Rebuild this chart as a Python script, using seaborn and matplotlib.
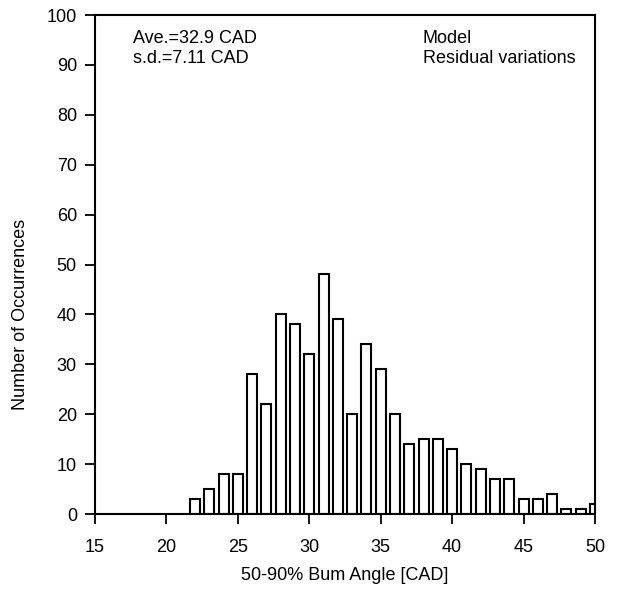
import matplotlib
matplotlib.use("Agg")
import matplotlib.pyplot as plt
import seaborn as sns
import pandas as pd

angles = [22, 23, 24, 25, 26, 27, 28, 29, 30, 31, 32, 33, 34, 35, 36, 37, 38, 39,
          40, 41, 42, 43, 44, 45, 46, 47, 48, 49, 50]
counts = [3, 5, 8, 8, 28, 22, 40, 38, 32, 48, 39, 20, 34, 29, 20, 14, 15, 15,
          13, 10, 9, 7, 7, 3, 3, 4, 1, 1, 2]
xticks = [15, 20, 25, 30, 35, 40, 45, 50]
yticks = [0, 10, 20, 30, 40, 50, 60, 70, 80, 90, 100]

sns.set_style("ticks")
plt.rcParams['font.family'] = ['Liberation Sans', 'DejaVu Sans']
plt.rcParams['text.color'] = 'black'
plt.rcParams['axes.labelcolor'] = 'black'

df = pd.DataFrame({"angle": angles, "count": counts})

fig = plt.figure(figsize=(6.18, 5.93), dpi=100)
ax = fig.add_axes([0.1537, 0.1332, 0.8091, 0.8415])

sns.barplot(data=df, x="angle", y="count", native_scale=True, width=0.7,
            color="white", edgecolor="black", linewidth=1.5, saturation=1, ax=ax)

fs = 13
ax.set_xlim(15, 50)
ax.set_ylim(0, 100)
ax.set_xticks(xticks)
ax.set_yticks(yticks)
ax.set_xticklabels([str(t) for t in xticks])
ax.set_yticklabels([str(t) for t in yticks])
ax.tick_params(direction='out', length=7, width=1.3, labelsize=fs, colors='black')
ax.tick_params(axis='y', pad=6)
ax.tick_params(axis='x', pad=11)
for s in ax.spines.values():
    s.set_visible(True)
    s.set_linewidth(1.5)
    s.set_color('black')

ax.set_xlabel("50-90% Bum Angle [CAD]", fontsize=fs)
ax.set_ylabel("Number of Occurrences", fontsize=fs)
ax.xaxis.set_label_coords(0.5, -0.124)
ax.yaxis.set_label_coords(-0.148, 0.40)
ax.xaxis.label.set_va('center')
ax.yaxis.label.set_va('center')

ax.text(0.076, 0.952, "Ave.=32.9 CAD", transform=ax.transAxes, fontsize=fs, va='center')
ax.text(0.076, 0.913, "s.d.=7.11 CAD", transform=ax.transAxes, fontsize=fs, va='center')
ax.text(0.655, 0.952, "Model", transform=ax.transAxes, fontsize=fs, va='center')
ax.text(0.655, 0.913, "Residual variations", transform=ax.transAxes, fontsize=fs, va='center')

fig.savefig("out.png", dpi=100)
